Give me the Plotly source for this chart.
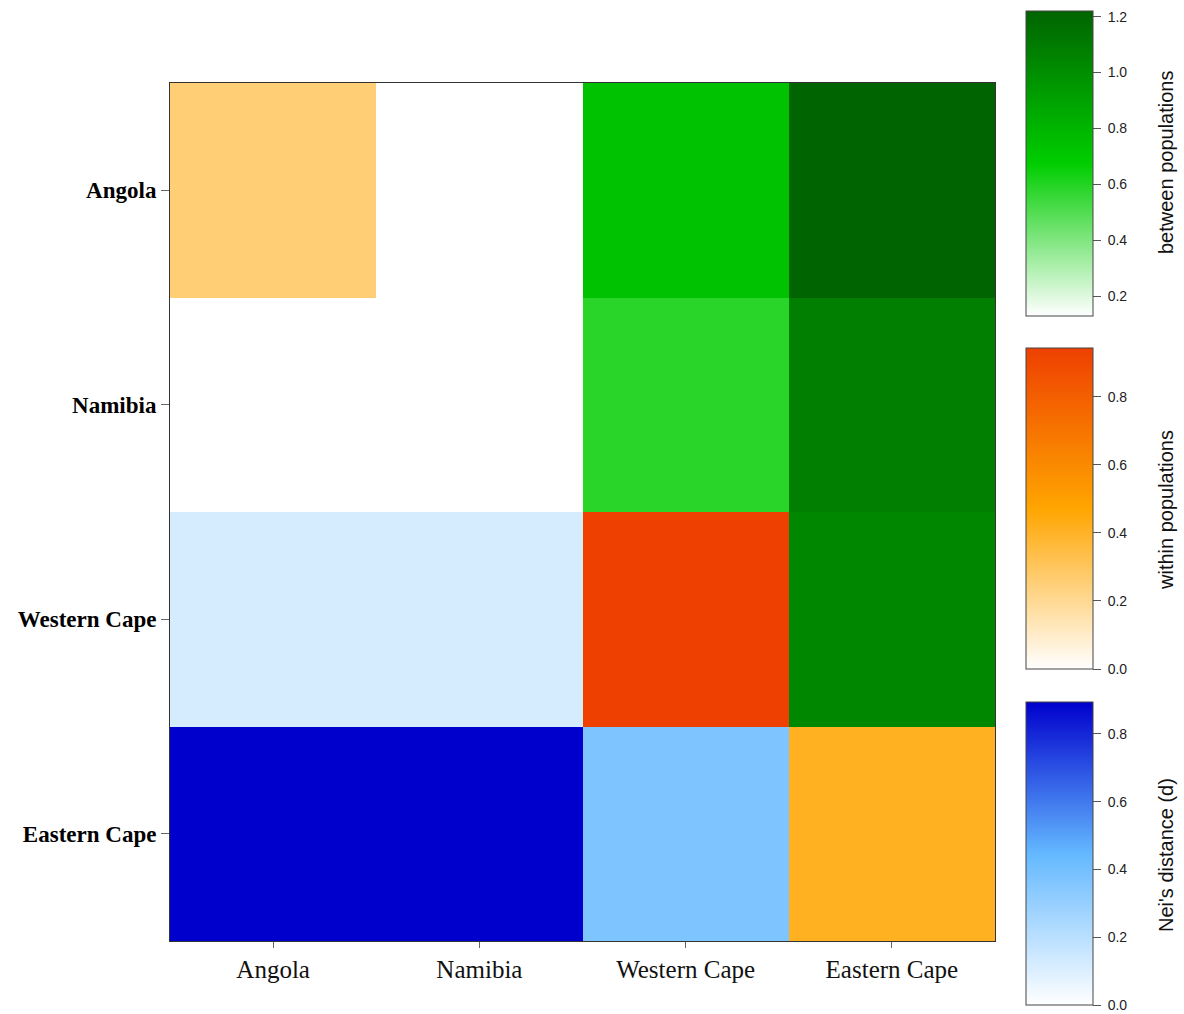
import numpy as np
import plotly.graph_objects as go

pops = ["Angola", "Namibia", "Western Cape", "Eastern Cape"]

# upper triangle: between-population values (row, col)
between = {("Angola", "Namibia"): 0.13, ("Angola", "Western Cape"): 0.73,
           ("Angola", "Eastern Cape"): 1.22, ("Namibia", "Western Cape"): 0.59,
           ("Namibia", "Eastern Cape"): 1.08, ("Western Cape", "Eastern Cape"): 1.04}
# diagonal: within-population values
within = {"Angola": 0.255, "Namibia": 0.0, "Western Cape": 0.944, "Eastern Cape": 0.41}
# lower triangle: Nei's distance
nei = {("Namibia", "Angola"): 0.0, ("Western Cape", "Angola"): 0.12,
       ("Western Cape", "Namibia"): 0.12, ("Eastern Cape", "Angola"): 0.894,
       ("Eastern Cape", "Namibia"): 0.894, ("Eastern Cape", "Western Cape"): 0.37}

cbar_titles = ["between populations", "within populations", "Nei's distance (d)"]

idx = list(range(len(pops)))

def mat(d, diag=False):
    z = np.full((len(pops), len(pops)), np.nan)
    for i, r in enumerate(pops):
        for j, c in enumerate(pops):
            if diag:
                if i == j:
                    z[i, j] = d[r]
            elif (r, c) in d:
                z[i, j] = d[(r, c)]
    return z

W, H = 1184, 1014
L, R, T, B = 170, 189, 83, 73
PW, PH = W - L - R, H - T - B

def py(p):
    return (H - B - p) / PH

def px(p):
    return (p - L) / PW

def cb(top_px, len_px):
    return dict(thickness=67, thicknessmode="pixels", lenmode="pixels", len=len_px,
                x=px(1026), xanchor="left", xpad=0, ypad=0,
                y=py(top_px), yanchor="top",
                outlinewidth=1, outlinecolor="#444",
                ticks="outside", ticklen=8, tickcolor="#555", dtick=0.2, tickformat=".1f",
                tickprefix=" ",
                tickfont=dict(family="Liberation Sans, Arial", size=14, color="#222"))

fig = go.Figure()
fig.add_trace(go.Heatmap(
    x=idx, y=idx, z=mat(between), zmin=0.13, zmax=1.22,
    colorscale=[[0, "#ffffff"], [0.5, "#00cd00"], [1, "#006400"]],
    colorbar=cb(11, 305), hoverongaps=False))
fig.add_trace(go.Heatmap(
    x=idx, y=idx, z=mat(within, diag=True), zmin=0.0, zmax=0.944,
    colorscale=[[0, "#ffffff"], [0.5, "#ffa500"], [1, "#ee4000"]],
    colorbar=cb(348, 321), hoverongaps=False))
fig.add_trace(go.Heatmap(
    x=idx, y=idx, z=mat(nei), zmin=0.0, zmax=0.894,
    colorscale=[[0, "#ffffff"], [0.5, "#63b8ff"], [1, "#0000cd"]],
    colorbar=cb(702, 303), hoverongaps=False))

for title, ymid in zip(cbar_titles, [163, 510, 855]):
    fig.add_annotation(text=title, x=px(1166), y=py(ymid), xref="paper", yref="paper",
                       textangle=-90, showarrow=False, xanchor="center", yanchor="middle",
                       font=dict(family="Liberation Sans, Arial", size=20, color="#111"))

fig.update_layout(
    width=W, height=H, margin=dict(l=L, r=R, t=T, b=B, autoexpand=False),
    paper_bgcolor="white", plot_bgcolor="white",
    xaxis=dict(range=[-0.5, 3.5], tickvals=idx, ticktext=pops,
               showline=True, linecolor="#333", linewidth=1, mirror=True,
               ticks="outside", ticklen=6, tickcolor="#666", showgrid=False, zeroline=False,
               tickfont=dict(family="Liberation Serif, Times New Roman", size=25, color="#111")),
    yaxis=dict(range=[3.5, -0.5], tickvals=idx, ticktext=pops,
               showline=True, linecolor="#333", linewidth=1, mirror=True,
               ticks="outside", ticklen=8, tickcolor="#666", showgrid=False, zeroline=False,
               tickfont=dict(family="Liberation Serif, Times New Roman", size=23, color="#000",
                             weight="bold")),
)
fig.write_html("out.html")
